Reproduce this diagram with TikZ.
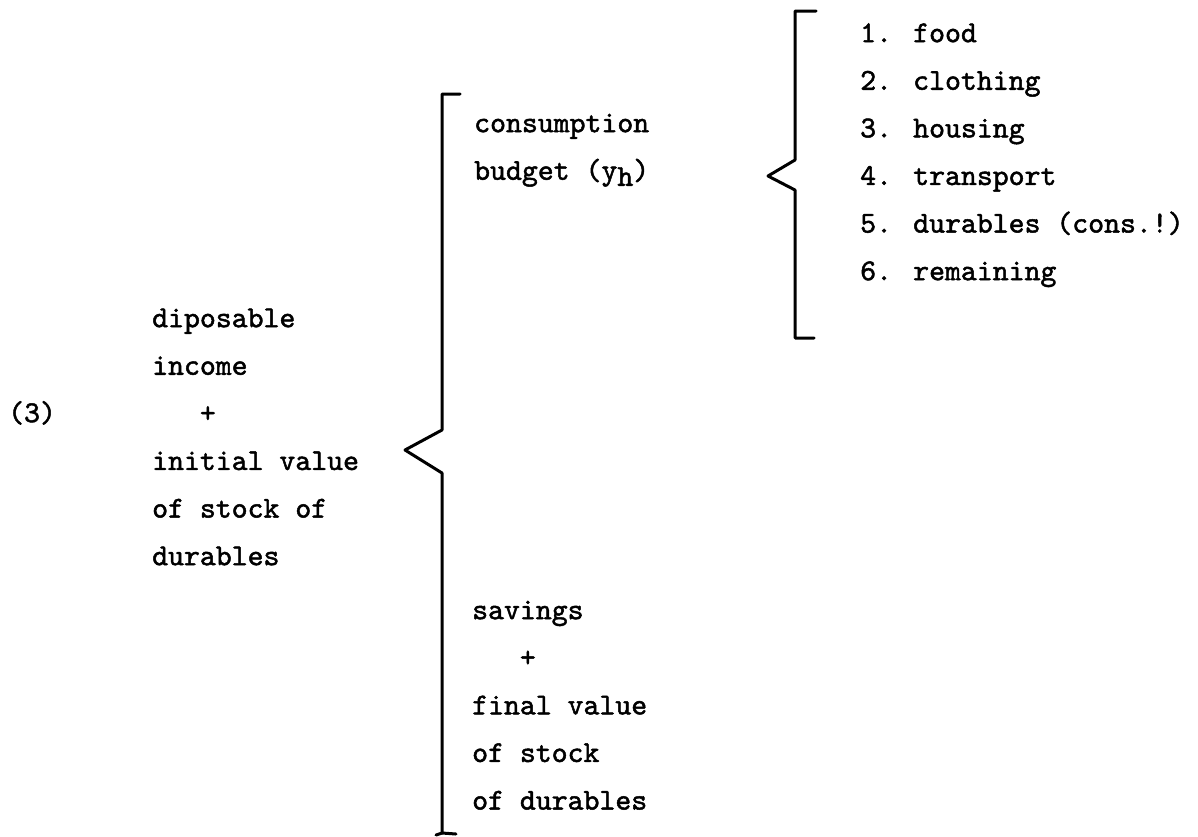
\documentclass[tikz,border=0pt]{standalone}
\usepackage{fontspec}
\newfontfamily\typew{lmmono10-regular.otf}[FakeBold=1.6]
\tikzset{
  txt/.style={font=\typew\fontsize{30.3}{43}\selectfont,inner sep=0pt,anchor=mid west},
  brace/.style={line width=3pt,line join=round,line cap=round}
}
\begin{document}
\begin{tikzpicture}[x=1pt,y=-1pt]
	\useasboundingbox (0,0) rectangle (1198,836);
	\node[txt] (num) at (8,420) {(3)};
	% left side of (3)
	\foreach \t [count=\i from 0] in {diposable,income,{\ \ \ +},initial value,of stock of,durables}
		\node[txt] (inc\i) at (152,{325+47.6*\i}) {\t};
	% the two parts
	\node[txt] (cons0) at (474,130) {consumption};
	\node[txt] (cons1) at (474,177.6) {budget (y\raisebox{-6pt}{h})};
	\foreach \t [count=\i from 0] in {savings,{\ \ \ +},final value,of stock,of durables}
		\node[txt] (sav\i) at (472,{617+47.6*\i}) {\t};
	% the budget items
	\foreach \t [count=\i] in {food,clothing,housing,transport,durables (cons.!),remaining}
		\node[txt] (item\i) at (860,{40+47.6*(\i-1)}) {\i. \t};
	% big brace
	\coordinate (tipA) at (405,450);
	\draw[brace] (460,94)--(442,94)--(442,430)--(tipA)--(442,473)--(442,833)--(456,834);
	\draw[brace] (436,835)--(442,833);
	% small brace
	\coordinate (tipB) at (768,176);
	\draw[brace] (816,11)--(795,11)--(795,160)--(tipB)--(795,190)--(795,338)--(814,338);
\end{tikzpicture}
\end{document}
